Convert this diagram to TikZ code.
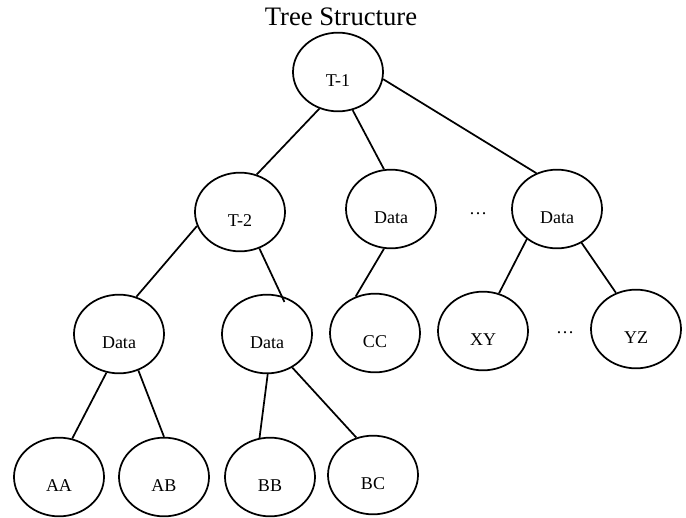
\documentclass[tikz,border=0pt]{standalone}
\usepackage{fontspec}
\setmainfont{Liberation Serif}
\usetikzlibrary{shapes.geometric}
\begin{document}
\begin{tikzpicture}[
		x=0.75pt, y=-0.75pt,
		line width=1.3pt,
		tnode/.style={ellipse, draw, minimum width=67.5pt, minimum height=59pt,
			font=\fontsize{13.5}{16}\selectfont, text height=21.5pt, text depth=0pt},
		dots/.style={anchor=base, font=\fontsize{13.5}{16}\selectfont}
	]
	\useasboundingbox (0,0) rectangle (686,518);

	\node[anchor=base, font=\fontsize{20}{24}\selectfont] (title) at (341,25) {Tree Structure};

	\node[tnode] (t1)  at (338,72)  {T-1};
	\node[tnode] (t2)  at (240,212) {T-2};
	\node[tnode] (dm)  at (391,209) {Data};
	\node[tnode] (dr)  at (557,209) {Data};
	\node[tnode] (dl)  at (119,334) {Data};
	\node[tnode] (dc)  at (267,334) {Data};
	\node[tnode] (cc)  at (375,333) {CC};
	\node[tnode] (xy)  at (483,331) {XY};
	\node[tnode] (yz)  at (636,329) {YZ};
	\node[tnode] (aa)  at (59,477)  {AA};
	\node[tnode] (ab)  at (164,477) {AB};
	\node[tnode] (bb)  at (270,477) {BB};
	\node[tnode] (bc)  at (373,475) {BC};

	\node[dots] (d1) at (478,214) {\ldots};
	\node[dots] (d2) at (565,333) {\ldots};

	\foreach \from/\to in {
		t1.243/t2.66,
		t1.291/dm.100,
		t1.351/dr.120,
		t2.198/dl.65,
		dm.260/cc.118,
		dr.225/xy.67,
		dr.306/yz.119,
		dl.252/aa.71,
		dl.298/ab.90,
		dc.271/bb.105,
		dc.307/bc.114}
		\draw (\from) -- (\to);
	\draw[shorten >=-5pt] (t2.298) -- (dc.69);

\end{tikzpicture}
\end{document}
